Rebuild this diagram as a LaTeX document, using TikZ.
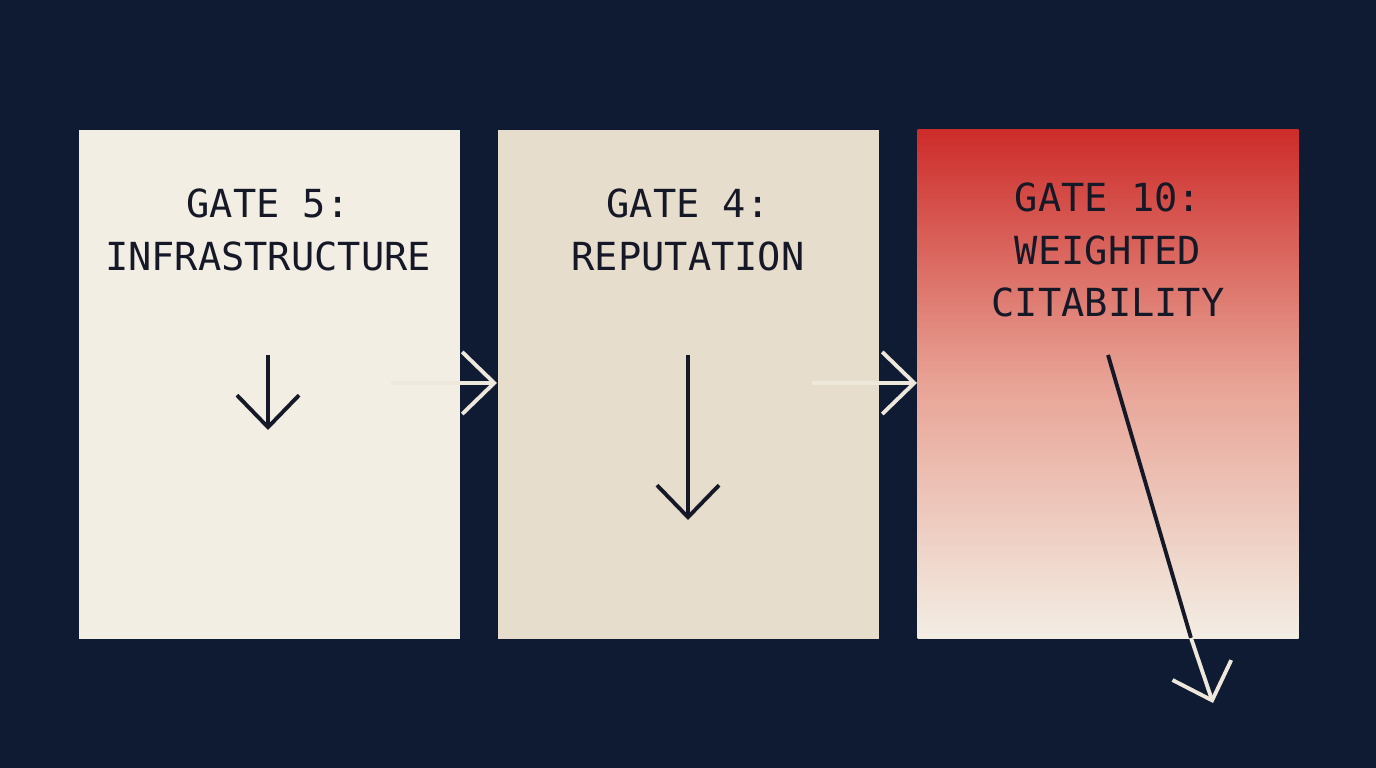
\documentclass[tikz,border=0pt]{standalone}
\usepackage{fontspec}
\setmonofont{DejaVu Sans Mono}
\usetikzlibrary{positioning}
\usetikzlibrary{arrows.meta}
\definecolor{navy}{HTML}{0F1A33}
\definecolor{creamA}{HTML}{F3EEE4}
\definecolor{creamB}{HTML}{E6DDCC}
\definecolor{gatered}{HTML}{CD2C2A}
\definecolor{gatepink}{HTML}{E8A496}
\definecolor{ink}{HTML}{151826}
\definecolor{light}{HTML}{EEE8DC}

\begin{document}
\begin{tikzpicture}[x=0.1mm, y=-0.1mm, >={Straight Barb[length=3.2mm,width=6.2mm]}, font=\ttfamily\fontsize{11pt}{15pt}\selectfont]
\tikzstyle{panel}=[rectangle, minimum width=38.1mm, minimum height=50.9mm, inner sep=0pt, anchor=north west]
\tikzstyle{label}=[text=ink, align=center]
\tikzstyle{dark}=[draw=ink, line width=1.1pt, ->]
\tikzstyle{pale}=[draw=light, line width=1.1pt, ->]

\fill[navy] (0,0) rectangle (1376,768);
\useasboundingbox (0,0) rectangle (1376,768);

\node[panel, fill=creamA] (infra) at (78,129) {};
\node[panel, fill=creamB] (repu) at (497,129) {};
\node[panel, top color=gatered, bottom color=creamA, middle color=gatepink, shading angle=0] (cite) at (917,129) {};

\node[label] (t1) at (268,230) {GATE 5:\\INFRASTRUCTURE};
\node[label] (t2) at (688,230) {GATE 4:\\REPUTATION};
\node[label] (t3) at (1108,250) {GATE 10:\\WEIGHTED\\CITABILITY};

\coordinate (a1) at (268,355);
\coordinate (b1) at (268,430);
\coordinate (a2) at (688,355);
\coordinate (b2) at (688,520);
\coordinate (a3) at (1108,355);
\coordinate (m3) at (1191,638);
\coordinate (b3) at (1213,703);
\coordinate (h1) at (391,383);
\coordinate (h2) at (812,383);

\draw[dark] (a1) -- (b1);
\draw[dark] (a2) -- (b2);
\draw[draw=ink, line width=1.1pt] (a3) -- (m3);
\draw[pale] (m3) -- (b3);
\draw[pale] (h1) -- (repu.west |- h1);
\draw[pale] (h2) -- (cite.west |- h2);
\end{tikzpicture}
\end{document}
